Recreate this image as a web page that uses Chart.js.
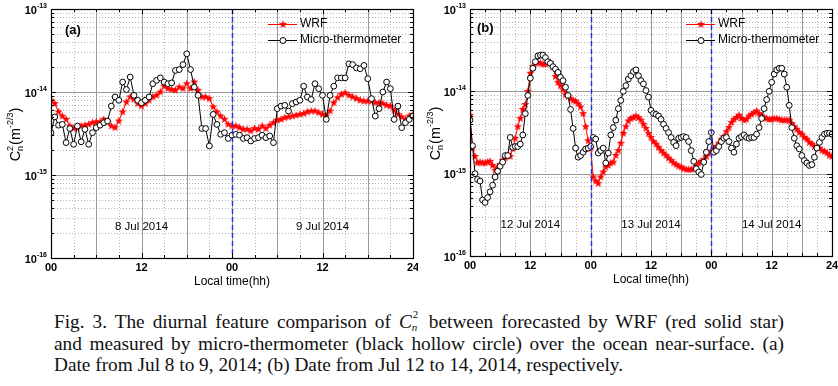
<!DOCTYPE html>
<html><head><meta charset="utf-8">
<script src="https://cdn.jsdelivr.net/npm/chart.js@4.4.0/dist/chart.umd.min.js"></script>
<style>
html,body{margin:0;padding:0;background:#fff;}
body{width:838px;height:386px;position:relative;overflow:hidden;}
canvas{position:absolute;top:0;}
#ca{left:0;}
#cb{left:418px;}
.cap{position:absolute;left:54px;font-family:"Liberation Serif","Times New Roman",serif;font-size:19.3px;line-height:21px;color:#111;white-space:nowrap;}
.just{width:730px;text-align:justify;text-align-last:justify;}
.cn{display:inline-block;position:relative;width:9px;height:10px;}
.cn .s2{position:absolute;left:1px;top:-9px;font-size:11px;line-height:11px;}
.cn .sn{position:absolute;left:0px;top:4px;font-size:11px;line-height:11px;font-style:italic;}
</style></head><body>
<canvas id="ca" width="418" height="300"></canvas>
<canvas id="cb" width="420" height="300"></canvas>
<div class="cap just" style="top:311px">Fig. 3. The diurnal feature comparison of <i>C</i><span class="cn"><span class="s2">2</span><span class="sn">n</span></span> between forecasted by WRF (red solid star)</div>
<div class="cap just" style="top:333px">and measured by micro-thermometer (black hollow circle) over the ocean near-surface. (a)</div>
<div class="cap" style="top:354px">Date from Jul 8 to 9, 2014; (b) Date from Jul 12 to 14, 2014, respectively.</div>
<script>
// ---- data: log10 of Cn^2 (m^-2/3), sampled every half hour from local time 00 ----
const STEP_HOURS = 0.5;
const wrfA_log10 = [
-14.10,-14.14,-14.24,-14.29,-14.33,-14.41,-14.44,-14.43,-14.41,-14.40,-14.39,-14.37,
-14.36,-14.36,-14.33,-14.36,-14.41,-14.43,-14.35,-14.24,-14.12,-14.06,-14.09,-14.14,
-14.17,-14.14,-14.10,-14.06,-14.04,-14.00,-13.93,-13.96,-13.97,-13.98,-13.94,-13.96,
-13.90,-13.96,-13.88,-13.98,-14.06,-14.06,-14.08,-14.18,-14.24,-14.29,-14.33,-14.39,
-14.41,-14.41,-14.43,-14.45,-14.45,-14.47,-14.44,-14.45,-14.41,-14.44,-14.40,-14.37,
-14.34,-14.33,-14.31,-14.30,-14.29,-14.28,-14.27,-14.26,-14.24,-14.23,-14.23,-14.25,
-14.27,-14.29,-14.23,-14.13,-14.07,-14.03,-14.01,-14.04,-14.06,-14.08,-14.10,-14.11,
-14.11,-14.11,-14.13,-14.13,-14.14,-14.16,-14.17,-14.22,-14.27,-14.30,-14.33,-14.29,
-14.27];
const microA_log10 = [
-14.49,-14.30,-14.40,-14.39,-14.61,-14.44,-14.63,-14.41,-14.60,-14.45,-14.63,-14.49,
-14.43,-14.40,-14.37,-14.35,-14.17,-14.06,-14.10,-13.88,-13.97,-13.82,-14.04,-14.10,
-14.13,-14.10,-14.06,-13.90,-13.86,-13.83,-13.88,-13.90,-13.89,-13.74,-13.73,-13.67,
-13.54,-13.73,-13.94,-14.04,-14.44,-14.44,-14.65,-14.27,-14.39,-14.51,-14.49,-14.56,
-14.52,-14.51,-14.52,-14.56,-14.55,-14.59,-14.56,-14.55,-14.52,-14.55,-14.53,-14.61,
-14.20,-14.17,-14.16,-14.23,-14.14,-14.12,-14.10,-13.93,-14.06,-14.09,-13.90,-13.96,
-14.04,-14.33,-14.04,-13.93,-13.83,-13.83,-13.83,-13.66,-13.67,-13.71,-13.72,-13.68,
-13.84,-14.08,-14.29,-14.20,-14.00,-13.88,-13.96,-14.33,-14.17,-14.43,-14.37,-14.33,
-14.29];
const wrfB_log10 = [
-14.29,-14.69,-14.79,-14.87,-14.86,-14.87,-14.87,-14.86,-14.85,-14.90,-14.96,-14.92,
-14.89,-14.84,-14.81,-14.78,-14.79,-14.70,-14.57,-14.43,-14.33,-14.22,-14.16,-14.00,
-13.78,-13.70,-13.66,-13.65,-13.66,-13.67,-13.67,-13.66,-13.65,-13.71,-13.82,-13.89,
-13.93,-13.98,-14.04,-14.06,-14.09,-14.11,-14.12,-14.15,-14.19,-14.27,-14.43,-14.60,
-14.69,-15.04,-15.09,-15.12,-15.04,-14.98,-14.92,-14.90,-14.87,-14.86,-14.78,-14.72,
-14.63,-14.51,-14.43,-14.36,-14.33,-14.32,-14.30,-14.32,-14.35,-14.40,-14.45,-14.51,
-14.56,-14.61,-14.64,-14.68,-14.72,-14.75,-14.78,-14.81,-14.84,-14.87,-14.89,-14.91,
-14.92,-14.94,-14.95,-14.95,-14.95,-14.94,-14.91,-14.87,-14.85,-14.83,-14.79,-14.75,
-14.73,-14.70,-14.67,-14.63,-14.58,-14.55,-14.49,-14.44,-14.38,-14.34,-14.32,-14.29,
-14.33,-14.35,-14.34,-14.30,-14.28,-14.26,-14.24,-14.27,-14.30,-14.32,-14.33,-14.34,
-14.34,-14.33,-14.33,-14.34,-14.35,-14.35,-14.35,-14.35,-14.39,-14.43,-14.46,-14.50,
-14.52,-14.56,-14.58,-14.62,-14.64,-14.67,-14.68,-14.69,-14.72,-14.73,-14.75,-14.78,
-14.79];
const microB_log10 = [
-14.35,-14.66,-15.00,-15.07,-15.09,-15.32,-15.35,-15.29,-15.22,-15.14,-15.04,-14.97,
-14.91,-14.86,-14.78,-14.78,-14.56,-14.68,-14.67,-14.67,-14.64,-14.53,-14.27,-14.05,
-13.84,-13.72,-13.64,-13.57,-13.56,-13.56,-13.59,-13.64,-13.66,-13.70,-13.73,-13.77,
-13.83,-13.87,-13.95,-14.05,-14.22,-14.45,-14.69,-14.80,-14.78,-14.74,-14.70,-14.69,
-14.67,-14.56,-14.58,-14.75,-14.72,-14.69,-14.87,-14.75,-14.53,-14.44,-14.35,-14.21,
-14.11,-14.00,-13.93,-13.85,-13.81,-13.76,-13.74,-13.81,-13.87,-13.91,-13.99,-14.07,
-14.23,-14.27,-14.28,-14.30,-14.34,-14.40,-14.45,-14.50,-14.56,-14.62,-14.66,-14.57,
-14.56,-14.55,-14.56,-14.61,-14.72,-14.85,-14.94,-14.98,-15.01,-14.86,-14.74,-14.61,
-14.50,-14.74,-14.72,-14.67,-14.61,-14.57,-14.56,-14.61,-14.69,-14.74,-14.64,-14.57,
-14.55,-14.53,-14.56,-14.57,-14.56,-14.56,-14.52,-14.44,-14.33,-14.21,-14.10,-14.00,
-13.89,-13.79,-13.74,-13.72,-13.72,-13.79,-13.95,-14.17,-14.44,-14.57,-14.66,-14.70,
-14.78,-14.84,-14.87,-14.90,-14.89,-14.80,-14.69,-14.62,-14.56,-14.52,-14.51,-14.51,
-14.52];

// axes / labels
const yTickExponents = [-16, -15, -14, -13];
const xTicksA = [0, 12, 24, 36, 48];
const xLabelsA = ['00', '12', '00', '12', '24'];
const xTicksB = [0, 12, 24, 36, 48, 60, 72];
const xLabelsB = ['00', '12', '00', '12', '00', '12', '24'];
const midnightsA = [24];
const midnightsB = [24, 48];
const dayCentersA = [12, 36];
const dayLabelsA = ['8 Jul 2014', '9 Jul 2014'];
const dayCentersB = [12, 36, 60];
const dayLabelsB = ['12 Jul 2014', '13 Jul 2014', '14 Jul 2014'];
const seriesNames = ['WRF', 'Micro-thermometer'];

const toPoints = logs => logs.map((v, i) => ({x: i * STEP_HOURS, y: Math.pow(10, v)}));

function makeStar(r, color) {
  const s = Math.ceil(r * 2) + 2;
  const c = document.createElement('canvas');
  c.width = s; c.height = s;
  const g = c.getContext('2d');
  g.fillStyle = color; g.beginPath();
  for (let k = 0; k < 10; k++) {
    const rr = k % 2 ? r * 0.42 : r;
    const a = -Math.PI / 2 + k * Math.PI / 5;
    g.lineTo(s / 2 + rr * Math.cos(a), s / 2 + rr * Math.sin(a));
  }
  g.closePath(); g.fill();
  return c;
}
const STAR = makeStar(4.3, '#ff0000');

const SANS = '"Liberation Sans", Arial, sans-serif';

function decor(cfg) {
  return {
    id: 'decor',
    beforeDatasetsDraw(chart) {
      const {ctx, chartArea: a, scales: {x, y}} = chart;
      ctx.save();
      ctx.lineWidth = 1;
      ctx.strokeStyle = '#b4b4b4'; ctx.setLineDash([1, 2]);
      for (let e = -16; e < -13; e++) for (let k = 2; k <= 9; k++) {
        const py = Math.round(y.getPixelForValue(k * Math.pow(10, e))) + 0.5;
        ctx.beginPath(); ctx.moveTo(a.left, py); ctx.lineTo(a.right, py); ctx.stroke();
      }
      for (let h = 3; h < cfg.max; h += 6) {
        const px = Math.round(x.getPixelForValue(h)) + 0.5;
        ctx.beginPath(); ctx.moveTo(px, a.top); ctx.lineTo(px, a.bottom); ctx.stroke();
      }
      ctx.setLineDash([]);
      ctx.strokeStyle = '#9a9a9a';
      for (let e = -15; e <= -14; e++) {
        const py = Math.round(y.getPixelForValue(Math.pow(10, e))) + 0.5;
        ctx.beginPath(); ctx.moveTo(a.left, py); ctx.lineTo(a.right, py); ctx.stroke();
      }
      for (let h = 6; h < cfg.max; h += 6) {
        const px = Math.round(x.getPixelForValue(h)) + 0.5;
        ctx.beginPath(); ctx.moveTo(px, a.top); ctx.lineTo(px, a.bottom); ctx.stroke();
      }
      ctx.restore();
    },
    afterDatasetsDraw(chart) {
      const {ctx, chartArea: a, scales: {x, y}} = chart;
      ctx.save();
      ctx.strokeStyle = '#1f2bff'; ctx.lineWidth = 1.4; ctx.setLineDash([5, 3]);
      cfg.midnights.forEach(h => {
        const px = Math.round(x.getPixelForValue(h)) + 0.5;
        ctx.beginPath(); ctx.moveTo(px, a.top); ctx.lineTo(px, a.bottom); ctx.stroke();
      });
      ctx.setLineDash([]);
      ctx.strokeStyle = '#000'; ctx.lineWidth = 1.2;
      ctx.strokeRect(a.left + 0.5, a.top + 0.5, a.right - a.left, a.bottom - a.top);
      ctx.lineWidth = 1;
      ctx.beginPath();
      for (let h = 0; h <= cfg.max; h += 3) {
        const px = Math.round(x.getPixelForValue(h)) + 0.5;
        const L = h % 12 === 0 ? 5 : 3;
        ctx.moveTo(px, a.bottom); ctx.lineTo(px, a.bottom - L);
        ctx.moveTo(px, a.top); ctx.lineTo(px, a.top + L);
      }
      for (let e = -16; e <= -13; e++) for (let k = 1; k <= 9; k++) {
        if (e === -13 && k > 1) break;
        const py = Math.round(y.getPixelForValue(k * Math.pow(10, e))) + 0.5;
        const L = k === 1 ? 5 : 3;
        ctx.moveTo(a.left, py); ctx.lineTo(a.left + L, py);
        ctx.moveTo(a.right, py); ctx.lineTo(a.right - L, py);
      }
      ctx.stroke();
      ctx.fillStyle = '#000';
      yTickExponents.forEach(e => {
        const py = y.getPixelForValue(Math.pow(10, e));
        ctx.font = 'bold 7px ' + SANS;
        const sup = String(e);
        const sw = ctx.measureText(sup).width;
        const supLeft = a.left - 4 - sw;
        ctx.textAlign = 'left'; ctx.textBaseline = 'alphabetic';
        ctx.fillText(sup, supLeft, py - 1);
        ctx.font = 'bold 11px ' + SANS;
        ctx.textAlign = 'right';
        ctx.fillText('10', supLeft, py + 4.5);
      });
      ctx.font = 'bold 11px ' + SANS; ctx.textAlign = 'center'; ctx.textBaseline = 'middle';
      cfg.xTicks.forEach((h, i) => ctx.fillText(cfg.xLabels[i], x.getPixelForValue(h), a.bottom + 10));
      ctx.font = '12px ' + SANS;
      ctx.fillText('Local time(hh)', (a.left + a.right) / 2, a.bottom + 24);
      ctx.font = '11.5px ' + SANS;
      cfg.dayCenters.forEach((h, i) => ctx.fillText(cfg.dayLabels[i], x.getPixelForValue(h), cfg.dayY));
      ctx.font = 'bold 13px ' + SANS; ctx.textAlign = 'left';
      ctx.fillText(cfg.panel, cfg.panelX, cfg.panelY);
      ctx.font = '12px ' + SANS;
      ctx.strokeStyle = '#ff0000'; ctx.lineWidth = 1;
      ctx.beginPath(); ctx.moveTo(268, 24.5); ctx.lineTo(297, 24.5); ctx.stroke();
      ctx.drawImage(STAR, 283 - STAR.width / 2, 24.5 - STAR.height / 2);
      ctx.fillText(seriesNames[0], 300, 24);
      ctx.strokeStyle = '#000';
      ctx.beginPath(); ctx.moveTo(268, 40.5); ctx.lineTo(297, 40.5); ctx.stroke();
      ctx.beginPath(); ctx.arc(283, 40.5, 3, 0, Math.PI * 2); ctx.fillStyle = '#fff'; ctx.fill(); ctx.stroke();
      ctx.fillStyle = '#000';
      ctx.fillText(seriesNames[1], 300, 40);
      // y axis title C_n^2 (m^-2/3)
      ctx.translate(cfg.titleX, (a.top + a.bottom) / 2 + 1);
      ctx.rotate(-Math.PI / 2);
      ctx.textBaseline = 'alphabetic'; ctx.textAlign = 'left';
      const big = '14.5px ' + SANS, small = '9px ' + SANS;
      ctx.font = big; const wC = ctx.measureText('C').width;
      ctx.font = small; const wS = Math.max(ctx.measureText('2').width, ctx.measureText('n').width);
      ctx.font = big; const wM = ctx.measureText('(m').width;
      ctx.font = small; const wP = ctx.measureText('-2/3').width;
      ctx.font = big; const wR = ctx.measureText(')').width;
      const total = wC + wS + wM + wP + wR + 1;
      let cx = -total / 2; const base = 5.5;
      ctx.font = big; ctx.fillText('C', cx, base); cx += wC;
      ctx.font = small; ctx.fillText('2', cx, base - 7); ctx.fillText('n', cx, base + 3.5); cx += wS + 1;
      ctx.font = big; ctx.fillText('(m', cx, base); cx += wM;
      ctx.font = small; ctx.fillText('-2/3', cx, base - 7); cx += wP;
      ctx.font = big; ctx.fillText(')', cx, base);
      ctx.restore();
    }
  };
}

function makeChart(id, wrfLog, microLog, cfg) {
  new Chart(document.getElementById(id), {
    type: 'line',
    data: {
      datasets: [
        {label: seriesNames[1], data: toPoints(microLog), order: 0,
         borderColor: '#000', borderWidth: 1, pointStyle: 'circle', pointRadius: 2.9,
         pointBackgroundColor: '#fff', pointBorderColor: '#000', pointBorderWidth: 1},
        {label: seriesNames[0], data: toPoints(wrfLog), order: 1,
         borderColor: '#ff0000', borderWidth: 1, pointStyle: STAR, pointRadius: 4}
      ]
    },
    options: {
      responsive: false, animation: false,
      layout: {padding: cfg.padding},
      plugins: {legend: {display: false}, tooltip: {enabled: false}},
      scales: {
        x: {type: 'linear', display: false, min: 0, max: cfg.max},
        y: {type: 'logarithmic', display: false, min: 1e-16, max: 1e-13}
      }
    },
    plugins: [decor(cfg)]
  });
}

makeChart('ca', wrfA_log10, microA_log10, {
  max: 48, padding: {left: 51, right: 5, top: 9, bottom: 42},
  xTicks: xTicksA, xLabels: xLabelsA, midnights: midnightsA,
  dayCenters: dayCentersA, dayLabels: dayLabelsA, dayY: 227,
  panel: '(a)', panelX: 65, panelY: 30, titleX: 14
});
makeChart('cb', wrfB_log10, microB_log10, {
  max: 72, padding: {left: 52, right: 6, top: 9, bottom: 44},
  xTicks: xTicksB, xLabels: xLabelsB, midnights: midnightsB,
  dayCenters: dayCentersB, dayLabels: dayLabelsB, dayY: 225,
  panel: '(b)', panelX: 59, panelY: 28, titleX: 16
});
</script>
</body></html>
